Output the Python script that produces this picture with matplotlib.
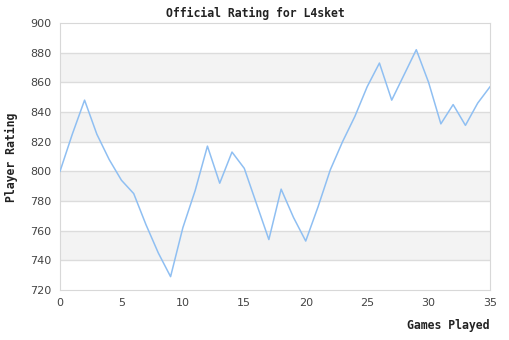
import matplotlib
matplotlib.use('Agg')
import matplotlib.pyplot as plt

# Rating after each game
games = list(range(36))
rating = [800, 825, 848, 825, 808, 794, 785, 764, 745, 729,
          762, 787, 817, 792, 813, 802, 778, 754, 788, 769,
          753, 776, 801, 820, 837, 857, 873, 848, 865, 882,
          860, 832, 845, 831, 846, 857]

y_ticks = list(range(720, 901, 20))
x_ticks = list(range(0, 36, 5))

fig = plt.figure(figsize=(5.1, 3.4), dpi=100)
ax = fig.add_axes([60 / 510, 1 - 290 / 340, 430 / 510, 267 / 340])

# Alternating horizontal bands
for i, lo in enumerate(y_ticks[:-1]):
    if i % 2 == 1:
        ax.axhspan(lo, lo + 20, color='#f3f3f3', zorder=0, lw=0)
for t in y_ticks[1:-1]:
    ax.axhline(t, color='#dcdcdc', lw=1, zorder=1)

ax.plot(games, rating, color='#8fbff2', lw=1.1, zorder=3)

ax.set_xlim(0, 35)
ax.set_ylim(720, 900)
ax.set_xticks(x_ticks)
ax.set_yticks(y_ticks)
ax.tick_params(length=0, labelsize=8, labelcolor='#444444', pad=6)
for sp in ax.spines.values():
    sp.set_color('#d8d8d8')

mono = dict(family='DejaVu Sans Mono', weight='bold', size=8.3, color='#222222')
fig.text(0.5, 1 - 13 / 340, 'Official Rating for L4sket', ha='center', va='center', **mono)
fig.text(490 / 510, 1 - 326 / 340, 'Games Played', ha='right', va='center', **mono)
fig.text(11 / 510, 1 - 157 / 340, 'Player Rating', ha='center', va='center', rotation=90, **mono)

fig.savefig('out.png', dpi=100)
